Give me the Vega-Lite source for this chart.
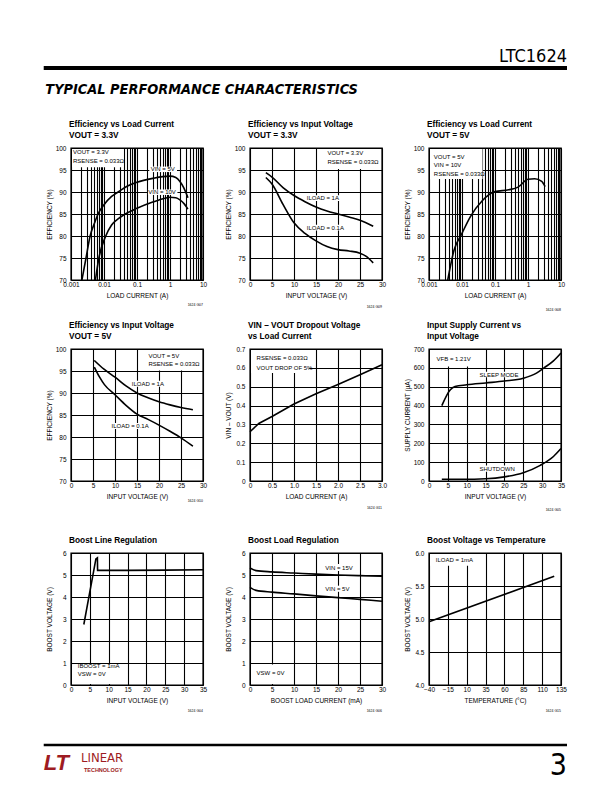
{
"$schema":"https://vega.github.io/schema/vega-lite/v6.json",
"background":"white",
"padding":{"left":41,"top":47,"right":0,"bottom":0},
"spacing":7,
"config":{
 "font":"Liberation Sans",
 "view":{"stroke":"black","strokeWidth":1.4},
 "axis":{"grid":true,"gridColor":"black","gridWidth":1.1,"gridOpacity":1,"domain":false,"ticks":false,"labelFont":"Liberation Sans","labelFontSize":6.5,"labelColor":"black","titleFont":"Liberation Sans","titleFontSize":6.5,"titleFontWeight":"normal","titleColor":"black","labelFlush":false,"labelOverlap":false,"labelBound":false},
 "axisY":{"labelPadding":5,"minExtent":16,"maxExtent":16,"titlePadding":3},
 "axisX":{"labelPadding":1.5,"minExtent":8,"maxExtent":8,"titlePadding":4},
 "title":{"font":"Liberation Sans","fontSize":8.3,"fontWeight":"bold","anchor":"start","frame":"group","color":"black","offset":6,"lineHeight":11,"dx":-2}
},
"vconcat":[
 {"width":496,"height":27,"view":{"stroke":null},
  "encoding":{
   "x":{"field":"x","type":"quantitative","scale":{"domain":[0,1]},"axis":null},
   "y":{"field":"y","type":"quantitative","scale":{"domain":[0,1]},"axis":null}},
  "layer":[
   {"data":{"values":[{"x":-0.055,"x2":1,"y":0.222}]},"mark":{"type":"rule","color":"black","strokeWidth":4},"encoding":{"x2":{"field":"x2"}}},
   {"data":{"values":[{"x":1,"y":0.648,"t":"LTC1624"}]},"mark":{"type":"text","align":"right","fontSize":18,"font":"DejaVu Sans Condensed","color":"black"},"encoding":{"text":{"field":"t"}}}
  ]},
 {"hconcat":[
  {"width":132,"height":132,"title":{"text":["Efficiency vs Load Current","VOUT = 3.3V"]},
   "encoding":{
    "x":{"field":"x","type":"quantitative","scale":{"type":"log","domain":[0.001,10]},"axis":{"title":"LOAD CURRENT (A)","values":[0.001,0.002,0.003,0.004,0.005,0.006,0.007,0.008,0.009,0.01,0.02,0.03,0.04,0.05,0.06,0.07,0.08,0.09,0.1,0.2,0.3,0.4,0.5,0.6,0.7,0.8,0.9,1,2,3,4,5,6,7,8,9,10],"format":"~g","labelExpr":"indexof([0.001,0.01,0.1,1,10], datum.value) >= 0 ? datum.label : ''"}},
    "y":{"field":"y","type":"quantitative","scale":{"domain":[70,100]},"axis":{"title":"EFFICIENCY (%)","values":[70,75,80,85,90,95,100]}}},
   "layer":[
    {"data":{"values":[{"x":0.001,"x2":0.042,"y":95.4,"y2":100},{"x":0.22,"x2":1.75,"y":94.3,"y2":96.0},{"x":0.2,"x2":1.8,"y":89.1,"y2":90.8}]},
     "mark":{"type":"rect","fill":"white","xOffset":1,"x2Offset":-1,"yOffset":-1,"y2Offset":1},"encoding":{"x2":{"field":"x2"},"y2":{"field":"y2"}}},
    {"data":{"values":[
      {"s":"5V","x":0.00214,"y":70},{"s":"5V","x":0.00285,"y":75},{"s":"5V","x":0.0038,"y":80},{"s":"5V","x":0.0052,"y":83},{"s":"5V","x":0.0066,"y":85},{"s":"5V","x":0.01,"y":87.1},{"s":"5V","x":0.017,"y":89},{"s":"5V","x":0.027,"y":90},{"s":"5V","x":0.05,"y":91.3},{"s":"5V","x":0.1,"y":92.2},{"s":"5V","x":0.3,"y":93.1},{"s":"5V","x":0.6,"y":93.5},{"s":"5V","x":1,"y":93.6},{"s":"5V","x":1.5,"y":93.3},{"s":"5V","x":2,"y":92.4},{"s":"5V","x":2.6,"y":91},{"s":"5V","x":3.5,"y":88.7},
      {"s":"10V","x":0.0055,"y":70},{"s":"10V","x":0.007,"y":75},{"s":"10V","x":0.0113,"y":80},{"s":"10V","x":0.017,"y":82.5},{"s":"10V","x":0.028,"y":84},{"s":"10V","x":0.044,"y":85},{"s":"10V","x":0.1,"y":86.3},{"s":"10V","x":0.3,"y":87.7},{"s":"10V","x":0.7,"y":88.6},{"s":"10V","x":1,"y":88.8},{"s":"10V","x":1.5,"y":88.7},{"s":"10V","x":2,"y":88.2},{"s":"10V","x":2.7,"y":87.3},{"s":"10V","x":3.5,"y":86.1}]},
     "mark":{"type":"line","color":"black","strokeWidth":1.6,"interpolate":"monotone"},"encoding":{"detail":{"field":"s"}}},
    {"data":{"values":[{"x":0.00115,"y":99.0,"t":"VOUT = 3.3V"},{"x":0.00115,"y":97.0,"t":"RSENSE = 0.033Ω"},{"x":0.26,"y":95.15,"t":"VIN = 5V"},{"x":0.22,"y":89.95,"t":"VIN = 10V"}]},
     "mark":{"type":"text","align":"left","fontSize":6,"color":"black"},"encoding":{"text":{"field":"t"}}},
    {"data":{"values":[{"x":10,"y":64.3,"t":"1624 G07"}]},"mark":{"type":"text","align":"right","fontSize":3.5,"color":"black"},"encoding":{"text":{"field":"t"}}}
   ]},
  {"width":132,"height":132,"title":{"text":["Efficiency vs Input Voltage","VOUT = 3.3V"]},
   "encoding":{
    "x":{"field":"x","type":"quantitative","scale":{"domain":[0,30]},"axis":{"title":"INPUT VOLTAGE (V)","values":[0,5,10,15,20,25,30]}},
    "y":{"field":"y","type":"quantitative","scale":{"domain":[70,100]},"axis":{"title":"EFFICIENCY (%)","values":[70,75,80,85,90,95,100]}}},
   "layer":[
    {"data":{"values":[{"x":16.6,"x2":30,"y":95.0,"y2":100},{"x":12.4,"x2":20.7,"y":87.7,"y2":89.5},{"x":12.4,"x2":22.2,"y":81.0,"y2":82.8}]},
     "mark":{"type":"rect","fill":"white","xOffset":1,"x2Offset":-1,"yOffset":-1,"y2Offset":1},"encoding":{"x2":{"field":"x2"},"y2":{"field":"y2"}}},
    {"data":{"values":[
      {"s":"1A","x":3.6,"y":94.4},{"s":"1A","x":5,"y":93.4},{"s":"1A","x":7.5,"y":91},{"s":"1A","x":10,"y":89.2},{"s":"1A","x":12.5,"y":87.8},{"s":"1A","x":15,"y":86.6},{"s":"1A","x":17.5,"y":85.7},{"s":"1A","x":20,"y":85.0},{"s":"1A","x":22.5,"y":84.3},{"s":"1A","x":25,"y":83.6},{"s":"1A","x":28,"y":82.2},
      {"s":"0.1A","x":3.6,"y":93.3},{"s":"0.1A","x":5,"y":91.8},{"s":"0.1A","x":7.5,"y":87.2},{"s":"0.1A","x":10,"y":83},{"s":"0.1A","x":12.5,"y":80.6},{"s":"0.1A","x":15,"y":78.9},{"s":"0.1A","x":17.5,"y":77.6},{"s":"0.1A","x":20,"y":76.9},{"s":"0.1A","x":22.5,"y":76.6},{"s":"0.1A","x":25,"y":76.1},{"s":"0.1A","x":26.5,"y":75.3},{"s":"0.1A","x":28,"y":73.9}]},
     "mark":{"type":"line","color":"black","strokeWidth":1.6,"interpolate":"monotone"},"encoding":{"detail":{"field":"s"}}},
    {"data":{"values":[{"x":17.6,"y":98.9,"t":"VOUT = 3.3V"},{"x":17.6,"y":96.8,"t":"RSENSE = 0.033Ω"},{"x":12.9,"y":88.6,"t":"ILOAD = 1A"},{"x":12.9,"y":81.9,"t":"ILOAD = 0.1A"}]},
     "mark":{"type":"text","align":"left","fontSize":6,"color":"black"},"encoding":{"text":{"field":"t"}}},
    {"data":{"values":[{"x":30,"y":63.9,"t":"1624 G09"}]},"mark":{"type":"text","align":"right","fontSize":3.5,"color":"black"},"encoding":{"text":{"field":"t"}}}
   ]},
  {"width":132,"height":132,"title":{"text":["Efficiency vs Load Current","VOUT = 5V"]},
   "encoding":{
    "x":{"field":"x","type":"quantitative","scale":{"type":"log","domain":[0.001,10]},"axis":{"title":"LOAD CURRENT (A)","values":[0.001,0.002,0.003,0.004,0.005,0.006,0.007,0.008,0.009,0.01,0.02,0.03,0.04,0.05,0.06,0.07,0.08,0.09,0.1,0.2,0.3,0.4,0.5,0.6,0.7,0.8,0.9,1,2,3,4,5,6,7,8,9,10],"format":"~g","labelExpr":"indexof([0.001,0.01,0.1,1,10], datum.value) >= 0 ? datum.label : ''"}},
    "y":{"field":"y","type":"quantitative","scale":{"domain":[70,100]},"axis":{"title":"EFFICIENCY (%)","values":[70,75,80,85,90,95,100]}}},
   "layer":[
    {"data":{"values":[{"x":0.001,"x2":0.045,"y":92.75,"y2":100}]},
     "mark":{"type":"rect","fill":"white","xOffset":1,"x2Offset":-1,"yOffset":-1,"y2Offset":1},"encoding":{"x2":{"field":"x2"},"y2":{"field":"y2"}}},
    {"data":{"values":[
      {"s":"a","x":0.0037,"y":70},{"s":"a","x":0.0057,"y":76.7},{"s":"a","x":0.01,"y":80.6},{"s":"a","x":0.018,"y":84.4},{"s":"a","x":0.041,"y":88.0},{"s":"a","x":0.1,"y":90.1},{"s":"a","x":0.26,"y":90.5},{"s":"a","x":0.5,"y":91.1},{"s":"a","x":1.0,"y":92.9},{"s":"a","x":1.6,"y":93.0},{"s":"a","x":2.6,"y":92.4},{"s":"a","x":3.3,"y":91.2}]},
     "mark":{"type":"line","color":"black","strokeWidth":1.6,"interpolate":"monotone"},"encoding":{"detail":{"field":"s"}}},
    {"data":{"values":[{"x":0.0014,"y":98.0,"t":"VOUT = 5V"},{"x":0.0014,"y":96.1,"t":"VIN = 10V"},{"x":0.0014,"y":94.1,"t":"RSENSE = 0.033Ω"}]},
     "mark":{"type":"text","align":"left","fontSize":6,"color":"black"},"encoding":{"text":{"field":"t"}}},
    {"data":{"values":[{"x":10,"y":63.2,"t":"1624 G08"}]},"mark":{"type":"text","align":"right","fontSize":3.5,"color":"black"},"encoding":{"text":{"field":"t"}}}
   ]}
  ],
  "spacing":47,"bounds":"flush",
  "title":{"text":"TYPICAL PERFORMANCE CHARACTERISTICS","anchor":"start","frame":"bounds","font":"DejaVu Sans Condensed","fontSize":14.4,"fontWeight":"bold","fontStyle":"italic","offset":22,"lineHeight":15,"dx":0}
 },
 {"hconcat":[
  {"width":132,"height":132,"title":{"text":["Efficiency vs Input Voltage","VOUT = 5V"]},
   "encoding":{
    "x":{"field":"x","type":"quantitative","scale":{"domain":[0,30]},"axis":{"title":"INPUT VOLTAGE (V)","values":[0,5,10,15,20,25,30]}},
    "y":{"field":"y","type":"quantitative","scale":{"domain":[70,100]},"axis":{"title":"EFFICIENCY (%)","values":[70,75,80,85,90,95,100]}}},
   "layer":[
    {"data":{"values":[{"x":16.3,"x2":30,"y":94.9,"y2":100},{"x":13.3,"x2":20.9,"y":91.2,"y2":93.0},{"x":8.7,"x2":17.8,"y":81.6,"y2":83.4}]},
     "mark":{"type":"rect","fill":"white","xOffset":1,"x2Offset":-1,"yOffset":-1,"y2Offset":1},"encoding":{"x2":{"field":"x2"},"y2":{"field":"y2"}}},
    {"data":{"values":[
      {"s":"1A","x":5.3,"y":97.4},{"s":"1A","x":7.5,"y":95.4},{"s":"1A","x":10,"y":93.6},{"s":"1A","x":12.5,"y":91.6},{"s":"1A","x":15,"y":90.0},{"s":"1A","x":17.5,"y":88.9},{"s":"1A","x":20,"y":88},{"s":"1A","x":22.5,"y":87.3},{"s":"1A","x":25,"y":86.7},{"s":"1A","x":27.7,"y":86.2},
      {"s":"0.1A","x":5.3,"y":95.9},{"s":"0.1A","x":6.5,"y":93.6},{"s":"0.1A","x":7.6,"y":91.9},{"s":"0.1A","x":10,"y":89.6},{"s":"0.1A","x":12.5,"y":87.2},{"s":"0.1A","x":15,"y":85.2},{"s":"0.1A","x":17.5,"y":84.0},{"s":"0.1A","x":20,"y":82.7},{"s":"0.1A","x":22.5,"y":81.3},{"s":"0.1A","x":25,"y":79.8},{"s":"0.1A","x":27.7,"y":77.9}]},
     "mark":{"type":"line","color":"black","strokeWidth":1.6,"interpolate":"monotone"},"encoding":{"detail":{"field":"s"}}},
    {"data":{"values":[{"x":17.6,"y":98.3,"t":"VOUT = 5V"},{"x":17.6,"y":96.6,"t":"RSENSE = 0.033Ω"},{"x":13.8,"y":92.1,"t":"ILOAD = 1A"},{"x":9.2,"y":82.5,"t":"ILOAD = 0.1A"}]},
     "mark":{"type":"text","align":"left","fontSize":6,"color":"black"},"encoding":{"text":{"field":"t"}}},
    {"data":{"values":[{"x":30,"y":65.5,"t":"1624 G10"}]},"mark":{"type":"text","align":"right","fontSize":3.5,"color":"black"},"encoding":{"text":{"field":"t"}}}
   ]},
  {"width":132,"height":132,"title":{"text":["VIN – VOUT Dropout Voltage","vs Load Current"]},
   "encoding":{
    "x":{"field":"x","type":"quantitative","scale":{"domain":[0,3]},"axis":{"title":"LOAD CURRENT (A)","values":[0,0.5,1,1.5,2,2.5,3],"labelExpr":"datum.value == 0 ? '0' : format(datum.value, '.1f')"}},
    "y":{"field":"y","type":"quantitative","scale":{"domain":[0,0.7]},"axis":{"title":"VIN – VOUT (V)","values":[0,0.1,0.2,0.3,0.4,0.5,0.6,0.7],"labelExpr":"datum.value == 0 ? '0' : format(datum.value, '.1f')"}}},
   "layer":[
    {"data":{"values":[{"x":0,"x2":1.37,"y":0.568,"y2":0.7}]},
     "mark":{"type":"rect","fill":"white","xOffset":1,"x2Offset":-1,"yOffset":-1,"y2Offset":1},"encoding":{"x2":{"field":"x2"},"y2":{"field":"y2"}}},
    {"data":{"values":[{"s":"a","x":0,"y":0.261},{"s":"a","x":0.2,"y":0.305},{"s":"a","x":0.5,"y":0.342},{"s":"a","x":1.0,"y":0.408},{"s":"a","x":1.5,"y":0.463},{"s":"a","x":2.0,"y":0.512},{"s":"a","x":2.5,"y":0.563},{"s":"a","x":3.0,"y":0.617}]},
     "mark":{"type":"line","color":"black","strokeWidth":1.6},"encoding":{"detail":{"field":"s"}}},
    {"data":{"values":[{"x":0.15,"y":0.652,"t":"RSENSE = 0.033Ω"},{"x":0.15,"y":0.600,"t":"VOUT DROP OF 5%"}]},
     "mark":{"type":"text","align":"left","fontSize":6,"color":"black"},"encoding":{"text":{"field":"t"}}},
    {"data":{"values":[{"x":3,"y":-0.141,"t":"1624 G11"}]},"mark":{"type":"text","align":"right","fontSize":3.5,"color":"black"},"encoding":{"text":{"field":"t"}}}
   ]},
  {"width":132,"height":132,"title":{"text":["Input Supply Current vs","Input Voltage"]},
   "encoding":{
    "x":{"field":"x","type":"quantitative","scale":{"domain":[0,35]},"axis":{"title":"INPUT VOLTAGE (V)","values":[0,5,10,15,20,25,30,35]}},
    "y":{"field":"y","type":"quantitative","scale":{"domain":[0,700]},"axis":{"title":"SUPPLY CURRENT (µA)","values":[0,100,200,300,400,500,600,700]}}},
   "layer":[
    {"data":{"values":[{"x":0,"x2":12.7,"y":602,"y2":700},{"x":12.7,"x2":23.7,"y":545,"y2":585},{"x":12.7,"x2":22.9,"y":44,"y2":87}]},
     "mark":{"type":"rect","fill":"white","xOffset":1,"x2Offset":-1,"yOffset":-1,"y2Offset":1},"encoding":{"x2":{"field":"x2"},"y2":{"field":"y2"}}},
    {"data":{"values":[
      {"s":"sleep","x":3.4,"y":400},{"s":"sleep","x":5.6,"y":483},{"s":"sleep","x":6.9,"y":501},{"s":"sleep","x":10,"y":510},{"s":"sleep","x":15,"y":520},{"s":"sleep","x":20,"y":530},{"s":"sleep","x":25,"y":545},{"s":"sleep","x":28.5,"y":572},{"s":"sleep","x":30.5,"y":600},{"s":"sleep","x":33,"y":637},{"s":"sleep","x":35,"y":679},
      {"s":"shut","x":3.4,"y":9},{"s":"shut","x":9,"y":9},{"s":"shut","x":15,"y":12},{"s":"shut","x":20,"y":22},{"s":"shut","x":25,"y":44},{"s":"shut","x":29.5,"y":83},{"s":"shut","x":33,"y":130},{"s":"shut","x":35,"y":172}]},
     "mark":{"type":"line","color":"black","strokeWidth":1.6,"interpolate":"monotone"},"encoding":{"detail":{"field":"s"}}},
    {"data":{"values":[{"x":2.0,"y":648,"t":"VFB = 1.21V"},{"x":13.4,"y":564,"t":"SLEEP MODE"},{"x":13.4,"y":66,"t":"SHUTDOWN"}]},
     "mark":{"type":"text","align":"left","fontSize":6,"color":"black"},"encoding":{"text":{"field":"t"}}},
    {"data":{"values":[{"x":35,"y":-154,"t":"1624 G05"}]},"mark":{"type":"text","align":"right","fontSize":3.5,"color":"black"},"encoding":{"text":{"field":"t"}}}
   ]}
  ],
  "spacing":47,"bounds":"flush"
 },
 {"hconcat":[
  {"width":132,"height":132,"title":{"text":[" ","Boost Line Regulation"],"lineHeight":15},
   "encoding":{
    "x":{"field":"x","type":"quantitative","scale":{"domain":[0,35]},"axis":{"title":"INPUT VOLTAGE (V)","values":[0,5,10,15,20,25,30,35]}},
    "y":{"field":"y","type":"quantitative","scale":{"domain":[0,6]},"axis":{"title":"BOOST VOLTAGE (V)","values":[0,1,2,3,4,5,6]}}},
   "layer":[
    {"data":{"values":[{"x":0,"x2":13.4,"y":0,"y2":0.98}]},
     "mark":{"type":"rect","fill":"white","xOffset":1,"x2Offset":-1,"yOffset":-1,"y2Offset":1},"encoding":{"x2":{"field":"x2"},"y2":{"field":"y2"}}},
    {"data":{"values":[{"s":"a","x":3.4,"y":2.75},{"s":"a","x":6.6,"y":5.73},{"s":"a","x":7.0,"y":5.78},{"s":"a","x":7.05,"y":5.21},{"s":"a","x":15,"y":5.21},{"s":"a","x":25,"y":5.22},{"s":"a","x":35,"y":5.24}]},
     "mark":{"type":"line","color":"black","strokeWidth":1.6},"encoding":{"detail":{"field":"s"}}},
    {"data":{"values":[{"x":1.8,"y":0.85,"t":"IBOOST = 1mA"},{"x":1.8,"y":0.48,"t":"VSW = 0V"}]},
     "mark":{"type":"text","align":"left","fontSize":6,"color":"black"},"encoding":{"text":{"field":"t"}}},
    {"data":{"values":[{"x":35,"y":-1.18,"t":"1624 G04"}]},"mark":{"type":"text","align":"right","fontSize":3.5,"color":"black"},"encoding":{"text":{"field":"t"}}}
   ]},
  {"width":132,"height":132,"title":{"text":[" ","Boost Load Regulation"],"lineHeight":15},
   "encoding":{
    "x":{"field":"x","type":"quantitative","scale":{"domain":[0,30]},"axis":{"title":"BOOST LOAD CURRENT (mA)","values":[0,5,10,15,20,25,30]}},
    "y":{"field":"y","type":"quantitative","scale":{"domain":[0,6]},"axis":{"title":"BOOST VOLTAGE (V)","values":[0,1,2,3,4,5,6]}}},
   "layer":[
    {"data":{"values":[{"x":16,"x2":24,"y":5.14,"y2":5.55},{"x":16,"x2":23.6,"y":4.19,"y2":4.56},{"x":0,"x2":9.3,"y":0,"y2":0.98}]},
     "mark":{"type":"rect","fill":"white","xOffset":1,"x2Offset":-1,"yOffset":-1,"y2Offset":1},"encoding":{"x2":{"field":"x2"},"y2":{"field":"y2"}}},
    {"data":{"values":[
      {"s":"15V","x":0,"y":5.32},{"s":"15V","x":1.4,"y":5.2},{"s":"15V","x":5,"y":5.14},{"s":"15V","x":10,"y":5.09},{"s":"15V","x":15,"y":5.04},{"s":"15V","x":20,"y":5.0},{"s":"15V","x":25,"y":4.97},{"s":"15V","x":30,"y":4.94},
      {"s":"5V","x":0,"y":4.44},{"s":"5V","x":1.4,"y":4.3},{"s":"5V","x":5,"y":4.22},{"s":"5V","x":10,"y":4.14},{"s":"5V","x":15,"y":4.05},{"s":"5V","x":20,"y":3.97},{"s":"5V","x":25,"y":3.89},{"s":"5V","x":30,"y":3.81}]},
     "mark":{"type":"line","color":"black","strokeWidth":1.6,"interpolate":"monotone"},"encoding":{"detail":{"field":"s"}}},
    {"data":{"values":[{"x":17.1,"y":5.34,"t":"VIN = 15V"},{"x":17.1,"y":4.37,"t":"VIN = 5V"},{"x":1.5,"y":0.53,"t":"VSW = 0V"}]},
     "mark":{"type":"text","align":"left","fontSize":6,"color":"black"},"encoding":{"text":{"field":"t"}}},
    {"data":{"values":[{"x":30,"y":-1.18,"t":"1624 G06"}]},"mark":{"type":"text","align":"right","fontSize":3.5,"color":"black"},"encoding":{"text":{"field":"t"}}}
   ]},
  {"width":132,"height":132,"title":{"text":[" ","Boost Voltage vs Temperature"],"lineHeight":15},
   "encoding":{
    "x":{"field":"x","type":"quantitative","scale":{"domain":[-40,135]},"axis":{"title":"TEMPERATURE (°C)","values":[-40,-15,10,35,60,85,110,135]}},
    "y":{"field":"y","type":"quantitative","scale":{"domain":[4,6]},"axis":{"title":"BOOST VOLTAGE (V)","values":[4,4.5,5,5.5,6],"format":".1f"}}},
   "layer":[
    {"data":{"values":[{"x":-40,"x2":18.3,"y":5.79,"y2":6}]},
     "mark":{"type":"rect","fill":"white","xOffset":1,"x2Offset":-1,"yOffset":-1,"y2Offset":1},"encoding":{"x2":{"field":"x2"},"y2":{"field":"y2"}}},
    {"data":{"values":[{"s":"a","x":-40,"y":4.957},{"s":"a","x":126,"y":5.647}]},
     "mark":{"type":"line","color":"black","strokeWidth":1.6},"encoding":{"detail":{"field":"s"}}},
    {"data":{"values":[{"x":-31,"y":5.89,"t":"ILOAD = 1mA"}]},
     "mark":{"type":"text","align":"left","fontSize":6,"color":"black"},"encoding":{"text":{"field":"t"}}},
    {"data":{"values":[{"x":135,"y":3.606,"t":"1624 G15"}]},"mark":{"type":"text","align":"right","fontSize":3.5,"color":"black"},"encoding":{"text":{"field":"t"}}}
   ]}
  ],
  "spacing":47,"bounds":"flush"
 },
 {"width":496,"height":48,"view":{"stroke":null},
  "encoding":{
   "x":{"field":"x","type":"quantitative","scale":{"domain":[0,1]},"axis":null},
   "y":{"field":"y","type":"quantitative","scale":{"domain":[0,1]},"axis":null}},
  "layer":[
   {"data":{"values":[{"x":-0.055,"x2":1,"y":0.498}]},"mark":{"type":"rule","color":"black","strokeWidth":2.5},"encoding":{"x2":{"field":"x2"}}},
   {"data":{"values":[{"x":1,"y":0.06,"t":"3"}]},"mark":{"type":"text","align":"right","fontSize":30,"font":"DejaVu Sans Condensed","color":"black"},"encoding":{"text":{"field":"t"}}},
   {"data":{"values":[{"x":-0.055,"y":0.12,"t":"LT"}]},"mark":{"type":"text","align":"left","fontSize":22,"fontWeight":"bold","fontStyle":"italic","color":"#9e1b22"},"encoding":{"text":{"field":"t"}}},
   {"data":{"values":[{"x":0.02,"y":0.22,"t":"LINEAR"}]},"mark":{"type":"text","align":"left","fontSize":13,"font":"DejaVu Sans Condensed","color":"#9e1b22"},"encoding":{"text":{"field":"t"}}},
   {"data":{"values":[{"x":0.026,"y":-0.02,"t":"TECHNOLOGY"}]},"mark":{"type":"text","align":"left","fontSize":5.5,"fontWeight":"bold","color":"#9e1b22"},"encoding":{"text":{"field":"t"}}}
  ]}
]
}
